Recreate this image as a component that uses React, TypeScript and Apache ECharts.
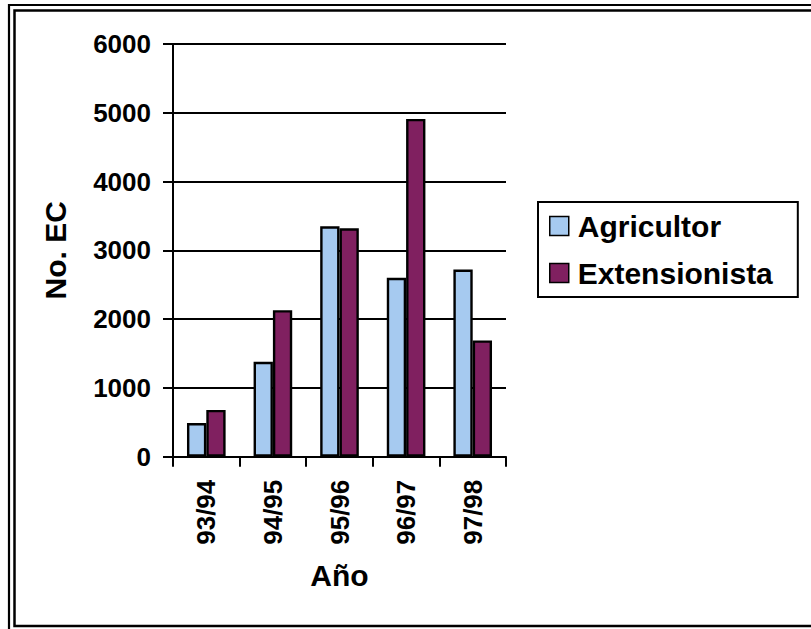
import React, { useEffect, useRef } from "react";
import * as echarts from "echarts";

const categories = ["93/94", "94/95", "95/96", "96/97", "97/98"];
const agricultor = [490, 1380, 3350, 2600, 2720];
const extensionista = [680, 2130, 3320, 4910, 1690];
const yTicks = { min: 0, max: 6000, interval: 1000 };

const FONT = "'Liberation Sans', Arial, sans-serif";

export default function App() {
  const ref = useRef<HTMLDivElement>(null);
  useEffect(() => {
    if (!ref.current) return;
    const chart = echarts.init(ref.current, undefined, { renderer: "svg" });
    chart.setOption({
      animation: false,
      backgroundColor: "#ffffff",
      textStyle: { fontFamily: FONT, color: "#000", fontWeight: "bold" },
      graphic: [
        {
          type: "rect",
          shape: { x: 9, y: 5, width: 900, height: 700 },
          style: { fill: "none", stroke: "#000", lineWidth: 2.2 },
          silent: true,
        },
        {
          type: "rect",
          shape: { x: 14.5, y: 10.5, width: 900, height: 615.5 },
          style: { fill: "none", stroke: "#000", lineWidth: 2.5 },
          silent: true,
        },
      ],
      grid: { left: 173, top: 44, right: 305, bottom: 172.3, containLabel: false },
      legend: {
        orient: "vertical",
        left: 538,
        top: 202,
        padding: [9, 25, 9, 11],
        itemWidth: 19,
        itemHeight: 19,
        itemGap: 17,
        icon: "rect",
        backgroundColor: "#fff",
        borderColor: "#000",
        borderWidth: 2,
        textStyle: {
          fontFamily: FONT,
          fontWeight: "bold",
          fontSize: 30,
          color: "#000",
          padding: [0, 0, 0, 4],
        },
        itemStyle: { borderColor: "#000", borderWidth: 1.5 },
      },
      xAxis: {
        type: "category",
        data: categories,
        name: "Año",
        nameLocation: "middle",
        nameGap: 104,
        nameTextStyle: { fontFamily: FONT, fontWeight: "bold", fontSize: 30, color: "#000" },
        axisLine: { show: true, lineStyle: { color: "#000", width: 2 } },
        axisTick: { show: true, length: 10, alignWithLabel: false, lineStyle: { color: "#000", width: 2 } },
        axisLabel: {
          rotate: 90,
          margin: 23,
          fontFamily: FONT,
          fontWeight: "bold",
          fontSize: 26,
          color: "#000",
        },
        splitLine: { show: false },
      },
      yAxis: {
        type: "value",
        min: yTicks.min,
        max: yTicks.max,
        interval: yTicks.interval,
        name: "No. EC",
        nameLocation: "middle",
        nameGap: 103,
        nameTextStyle: { fontFamily: FONT, fontWeight: "bold", fontSize: 30, color: "#000" },
        axisLine: { show: true, lineStyle: { color: "#000", width: 2 } },
        axisTick: { show: true, length: 10, lineStyle: { color: "#000", width: 2 } },
        axisLabel: {
          margin: 22,
          fontFamily: FONT,
          fontWeight: "bold",
          fontSize: 26,
          color: "#000",
          formatter: (v: number) => String(v),
        },
        splitLine: { show: true, lineStyle: { color: "#000", width: 2 } },
      },
      series: [
        {
          name: "Agricultor",
          type: "bar",
          data: agricultor,
          barGap: "0%",
          barCategoryGap: "42%",
          itemStyle: { color: "#A6CAF0", borderColor: "#000", borderWidth: 2.4 },
        },
        {
          name: "Extensionista",
          type: "bar",
          data: extensionista,
          barGap: "0%",
          barCategoryGap: "42%",
          itemStyle: { color: "#802060", borderColor: "#000", borderWidth: 2.4 },
        },
      ],
    });
    return () => chart.dispose();
  }, []);
  return (
    <div
      ref={ref}
      style={{ position: "absolute", left: 0, top: 0, width: 811, height: 629 }}
    />
  );
}
